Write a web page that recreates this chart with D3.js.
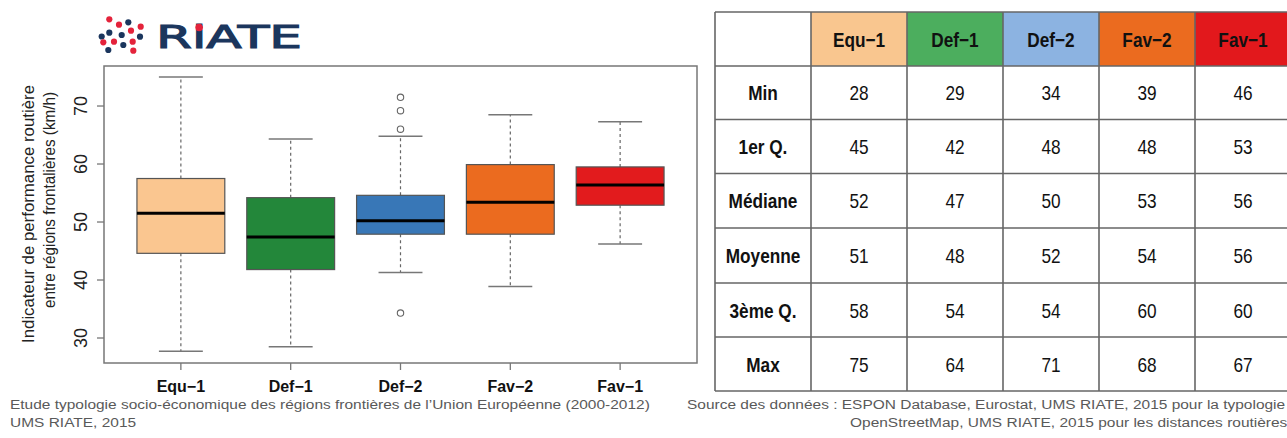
<!DOCTYPE html>
<html><head><meta charset="utf-8">
<script src="https://cdn.jsdelivr.net/npm/d3@7"></script>
<style>
html,body{margin:0;padding:0;background:#fff;overflow:hidden;}
svg{display:block;font-family:"Liberation Sans",Arial,sans-serif;}
</style></head>
<body>
<svg id="c" width="1287" height="438"></svg>
<script>
// ---------- DATA ----------
const categories = ["Equ\u22121","Def\u22121","Def\u22122","Fav\u22122","Fav\u22121"];
const whiskerLow  = [27.7, 28.5, 41.3, 38.9, 46.2];
const q1          = [44.6, 41.8, 47.9, 47.9, 52.9];
const median      = [51.5, 47.4, 50.2, 53.4, 56.4];
const q3          = [57.5, 54.2, 54.6, 59.9, 59.5];
const whiskerHigh = [75.0, 64.3, 64.8, 68.5, 67.3];
const outliers    = [[], [], [71.5, 69.2, 66.0, 34.3], [], []];
const yTicks = [30, 40, 50, 60, 70];

const rowLabels = ["Min","1er Q.","Médiane","Moyenne","3ème Q.","Max"];
const tableValues = [
  [28, 29, 34, 39, 46],
  [45, 42, 48, 48, 53],
  [52, 47, 50, 53, 56],
  [51, 48, 52, 54, 56],
  [58, 54, 54, 60, 60],
  [75, 64, 71, 68, 67]
];
const boxColors    = ["#FAC690","#23873A","#3877B7","#EB6B1F","#E21B1D"];
const headerColors = ["#F9C68F","#4CAE5E","#8CB3E1","#EB6B1F","#E2181C"];

// ---------- SETUP ----------
const svg = d3.select("#c");
const frame = {l:104, r:697, t:66, b:363};
const x = d3.scaleLinear().domain([0.3, 5.7]).range([frame.l, frame.r]);
const y = d3.scaleLinear().domain([25.69, 76.9]).range([frame.b, frame.t]);
const unit = x(2) - x(1);
const boxW = 0.8 * unit, capW = 0.4 * unit;
const grey = "#666";

// ---------- LOGO ----------
const logoDots = [
  [109.3,19.3,"r"],[119,24.7,"r"],[128.3,22.3,"n"],[140.7,26.7,"r"],[131,30.7,"r"],
  [109.3,32.7,"n"],[121.7,35,"n"],[101.7,36.5,"n"],[140,36.7,"n"],[114,41.7,"r"],
  [103.3,42.3,"r"],[123.3,45,"n"],[132.7,41.7,"r"],[108.3,50,"n"],[133.3,50.7,"r"]
];
const logo = svg.append("g");
logo.selectAll("circle").data(logoDots).join("circle")
  .attr("cx", d=>d[0]).attr("cy", d=>d[1]).attr("r", 3.1)
  .attr("fill", d=>d[2]==="r" ? "#E4233B" : "#1B365D");
const lt = logo.append("text").attr("x",156).attr("y",48)
  .attr("font-family","DejaVu Sans").attr("font-size",32.5)
  .attr("fill","#1B365D").attr("stroke","#1B365D").attr("stroke-width",1.1)
  .attr("textLength",146).attr("lengthAdjust","spacingAndGlyphs")
  .text("RiATE");

// ---------- BOXPLOT ----------
const g = svg.append("g");
categories.forEach((c,i)=>{
  const cx = x(i+1);
  g.append("line").attr("x1",cx).attr("x2",cx).attr("y1",y(q3[i])).attr("y2",y(whiskerHigh[i]))
    .attr("stroke",grey).attr("stroke-width",1.2).attr("stroke-dasharray","3,3");
  g.append("line").attr("x1",cx).attr("x2",cx).attr("y1",y(q1[i])).attr("y2",y(whiskerLow[i]))
    .attr("stroke",grey).attr("stroke-width",1.2).attr("stroke-dasharray","3,3");
  [whiskerHigh[i], whiskerLow[i]].forEach(v=>{
    g.append("line").attr("x1",cx-capW/2).attr("x2",cx+capW/2).attr("y1",y(v)).attr("y2",y(v))
      .attr("stroke","#777").attr("stroke-width",1.5);
  });
  g.append("rect").attr("x",cx-boxW/2).attr("width",boxW)
    .attr("y",y(q3[i])).attr("height",y(q1[i])-y(q3[i]))
    .attr("fill",boxColors[i]).attr("stroke","#555").attr("stroke-width",1.2);
  g.append("line").attr("x1",cx-boxW/2).attr("x2",cx+boxW/2).attr("y1",y(median[i])).attr("y2",y(median[i]))
    .attr("stroke","#000").attr("stroke-width",3);
  outliers[i].forEach(v=>{
    g.append("circle").attr("cx",cx).attr("cy",y(v)).attr("r",3.2)
      .attr("fill","none").attr("stroke",grey).attr("stroke-width",1.1);
  });
});
svg.append("rect").attr("x",frame.l).attr("y",frame.t).attr("width",frame.r-frame.l).attr("height",frame.b-frame.t)
  .attr("fill","none").attr("stroke","#777").attr("stroke-width",1.5);

// y axis
const yAx = svg.append("g");
yTicks.forEach(t=>{
  yAx.append("line").attr("x1",frame.l-7).attr("x2",frame.l).attr("y1",y(t)).attr("y2",y(t))
    .attr("stroke","#777").attr("stroke-width",1.3);
  yAx.append("text").attr("transform",`translate(87,${y(t)}) rotate(-90)`)
    .attr("text-anchor","middle").attr("font-size",18).attr("fill","#222").text(t);
});
// x axis
categories.forEach((c,i)=>{
  svg.append("line").attr("x1",x(i+1)).attr("x2",x(i+1)).attr("y1",frame.b).attr("y2",frame.b+7)
    .attr("stroke","#777").attr("stroke-width",1.3);
  svg.append("text").attr("x",x(i+1)).attr("y",392).attr("text-anchor","middle")
    .attr("font-size",16).attr("font-weight","bold").attr("fill","#111").text(c);
});
// y title
svg.append("text").attr("transform","translate(34,343) rotate(-90)").attr("font-size",17).attr("fill","#222")
  .attr("textLength",258).attr("lengthAdjust","spacingAndGlyphs").text("Indicateur de performance routière");
svg.append("text").attr("transform","translate(55,308) rotate(-90)").attr("font-size",17).attr("fill","#222")
  .attr("textLength",216).attr("lengthAdjust","spacingAndGlyphs").text("entre régions frontalières (km/h)");

// ---------- TABLE ----------
const colX = [715, 811, 907, 1003, 1099, 1195, 1291];
const rowY = [12, 66, 119.5, 173.5, 228, 283, 337, 391];
const tb = svg.append("g");
headerColors.forEach((col,j)=>{
  tb.append("rect").attr("x",colX[j+1]).attr("y",rowY[0]).attr("width",colX[j+2]-colX[j+1]).attr("height",rowY[1]-rowY[0])
    .attr("fill",col);
});
const sx = 0.82;
function cellText(cx, cy, txt, bold){
  tb.append("text").attr("transform",`translate(${cx},${cy+7.5}) scale(${sx},1)`)
    .attr("text-anchor","middle").attr("font-size",21).attr("font-weight",bold?"bold":"normal")
    .attr("fill","#111").text(txt);
}
categories.forEach((c,j)=> cellText((colX[j+1]+colX[j+2])/2, (rowY[0]+rowY[1])/2, c, true));
rowLabels.forEach((r,i)=>{
  const cy = (rowY[i+1]+rowY[i+2])/2;
  cellText((colX[0]+colX[1])/2, cy, r, true);
  tableValues[i].forEach((v,j)=> cellText((colX[j+1]+colX[j+2])/2, cy, v, false));
});
rowY.forEach(yy=> tb.append("line").attr("x1",colX[0]).attr("x2",colX[6]).attr("y1",yy).attr("y2",yy)
  .attr("stroke","#666").attr("stroke-width",1.6));
colX.forEach(xx=> tb.append("line").attr("x1",xx).attr("x2",xx).attr("y1",rowY[0]).attr("y2",rowY[7])
  .attr("stroke","#666").attr("stroke-width",1.6));

// ---------- FOOTER ----------
const ft = svg.append("g").attr("font-size",13.5).attr("fill","#595959");
const f1 = ft.append("text").attr("x",10).attr("y",409).text("Etude typologie socio-économique des régions frontières de l\u2019Union Européenne (2000-2012)");
const nat = f1.node().getComputedTextLength();
const ratio = 640 / nat;
f1.remove();
function foot(xx, yy, txt){
  ft.append("text").attr("transform",`translate(${xx},${yy}) scale(${ratio},1)`).text(txt);
}
foot(10,409,"Etude typologie socio-économique des régions frontières de l\u2019Union Européenne (2000-2012)");
foot(10,427,"UMS RIATE, 2015");
foot(687,409,"Source des données : ESPON Database, Eurostat, UMS RIATE, 2015 pour la typologie");
foot(850,427,"OpenStreetMap, UMS RIATE, 2015 pour les distances routières");

// red dot over the i of the logo
try{
  const p = lt.node().getStartPositionOfChar(1);
  const e = lt.node().getEndPositionOfChar(1);
  logo.append("circle").attr("cx",(p.x+e.x)/2).attr("cy",27.5).attr("r",3.8).attr("fill","#E4233B");
}catch(err){}
</script>
</body></html>
